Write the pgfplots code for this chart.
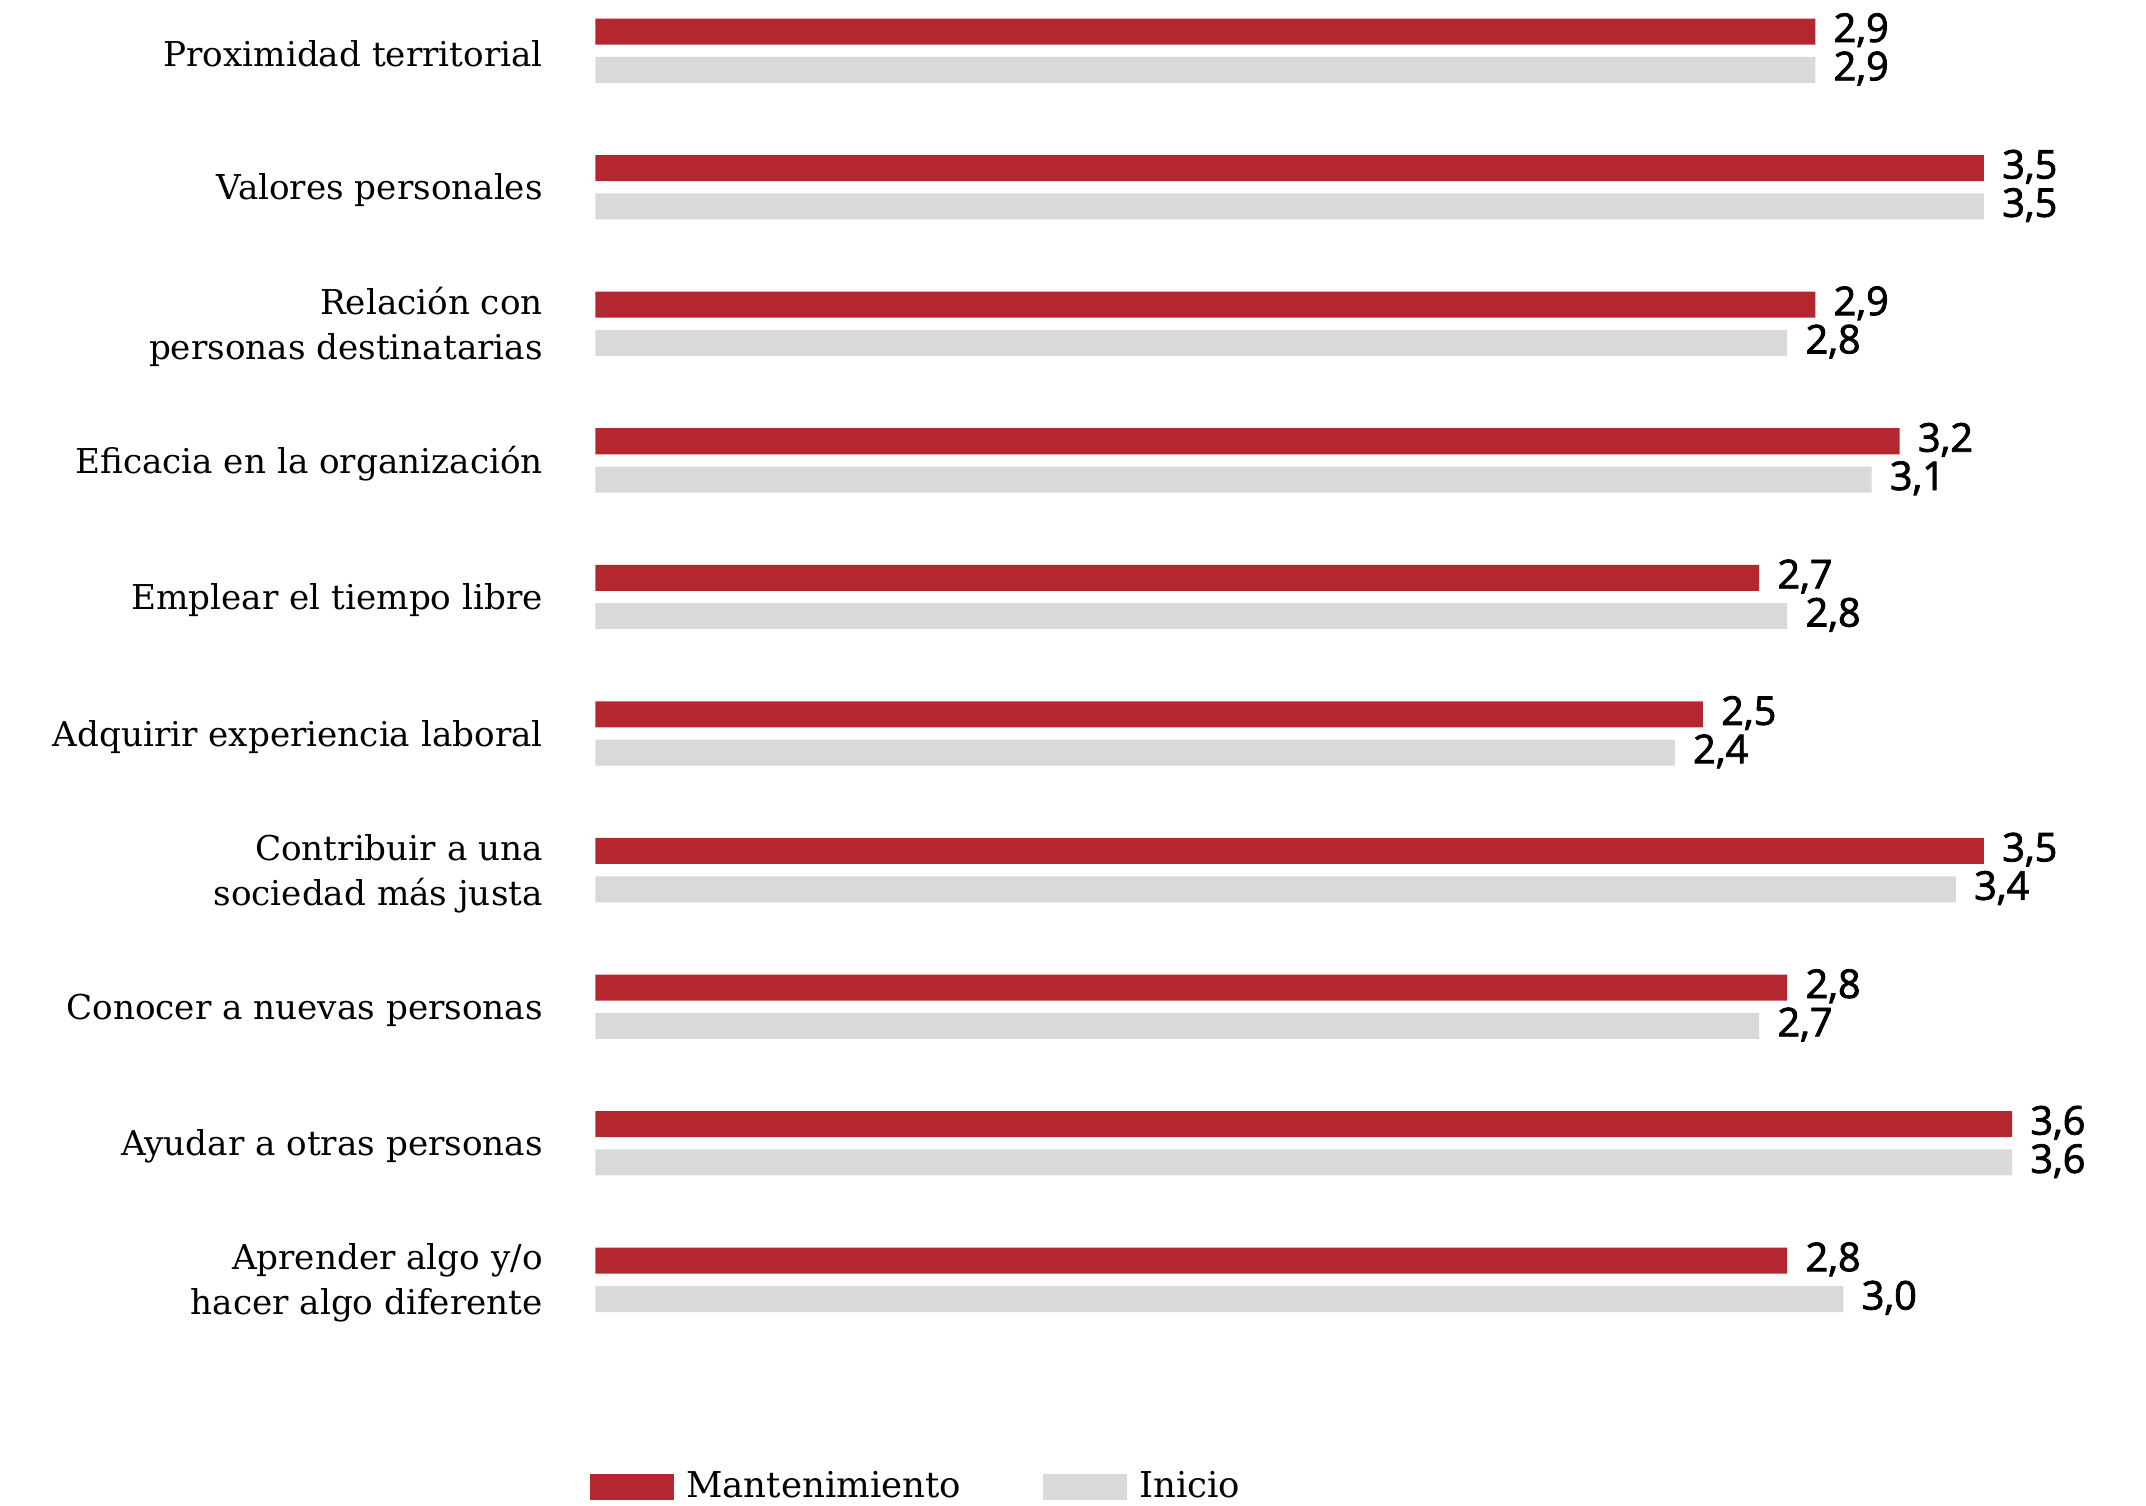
\documentclass[border=0pt]{standalone}
\usepackage{pgfplots}
\pgfplotsset{compat=1.18}
\usepackage{pgfplotstable}
\usepackage{fontspec}
\setmainfont{DejaVu Serif}
\newfontfamily\valfont[FakeBold=2]{Open Sans}
\definecolor{mred}{RGB}{181,39,47}
\definecolor{mgray}{RGB}{217,217,217}

\pgfplotstableread{
y v
9 2.9
8 3.5
7 2.9
6 3.2
5 2.7
4 2.5
3 3.5
2 2.8
1 3.6
0 2.8
}\mant
\pgfplotstableread{
y v
9 2.9
8 3.5
7 2.8
6 3.1
5 2.8
4 2.4
3 3.4
2 2.7
1 3.6
0 3.0
}\inicio

\begin{document}
\begin{tikzpicture}
\begin{axis}[
 x=102.65pt, y=49.9pt,
 xmin=0, xmax=5.519, ymin=-1.651, ymax=9.371,
 xbar, bar width=9.5pt,
 axis x line=none, axis y line=left,
 y axis line style={draw=none},
 ytick={0,...,9}, ytick style={draw=none}, major tick length=0pt,
 yticklabels={{Aprender algo y/o\\hacer algo diferente}, {Ayudar a otras personas}, {Conocer a nuevas personas}, {Contribuir a una\\sociedad más justa}, {Adquirir experiencia laboral}, {Emplear el tiempo libre}, {Eficacia en la organización}, {Relación con\\personas destinatarias}, {Valores personales}, {Proximidad territorial}},
 yticklabel style={align=right, font=\fontsize{12.5}{16.5}\selectfont, inner sep=0pt, xshift=-19pt, yshift=-1.2pt},
 point meta=explicit,
 nodes near coords={\pgfmathprintnumber[fixed,fixed zerofill,precision=1,use comma,assume math mode=true]{\pgfplotspointmeta}},
 nodes near coords style={font=\valfont\fontsize{14.5}{16}\selectfont, anchor=west, inner sep=0pt, xshift=6.5pt, yshift=0.5pt, text=black},
 clip=false,
 legend columns=2,
 legend style={at={(-0.0035,0.0125)}, anchor=west, draw=none, fill=none, inner sep=0pt, font=\fontsize{13}{15}\selectfont,
   nodes={inner sep=0pt},
   /tikz/every odd column/.append style={column sep=4.5pt},
   /tikz/every even column/.append style={column sep=30pt}},
 legend image code/.code={\fill[#1] (0pt,-4.75pt) rectangle (30.5pt,4.75pt);},
]
\addplot[fill=mred, draw=none, bar shift=7pt] table[x expr=\thisrow{v}+1.442, y=y, meta=v]{\mant};
\addplot[fill=mgray, draw=none, bar shift=-7pt] table[x expr=\thisrow{v}+1.442, y=y, meta=v]{\inicio};
\legend{Mantenimiento, Inicio}
\path (axis cs:-2.119,-1.651) rectangle (axis cs:5.519,9.371);
\end{axis}
\end{tikzpicture}
\end{document}
